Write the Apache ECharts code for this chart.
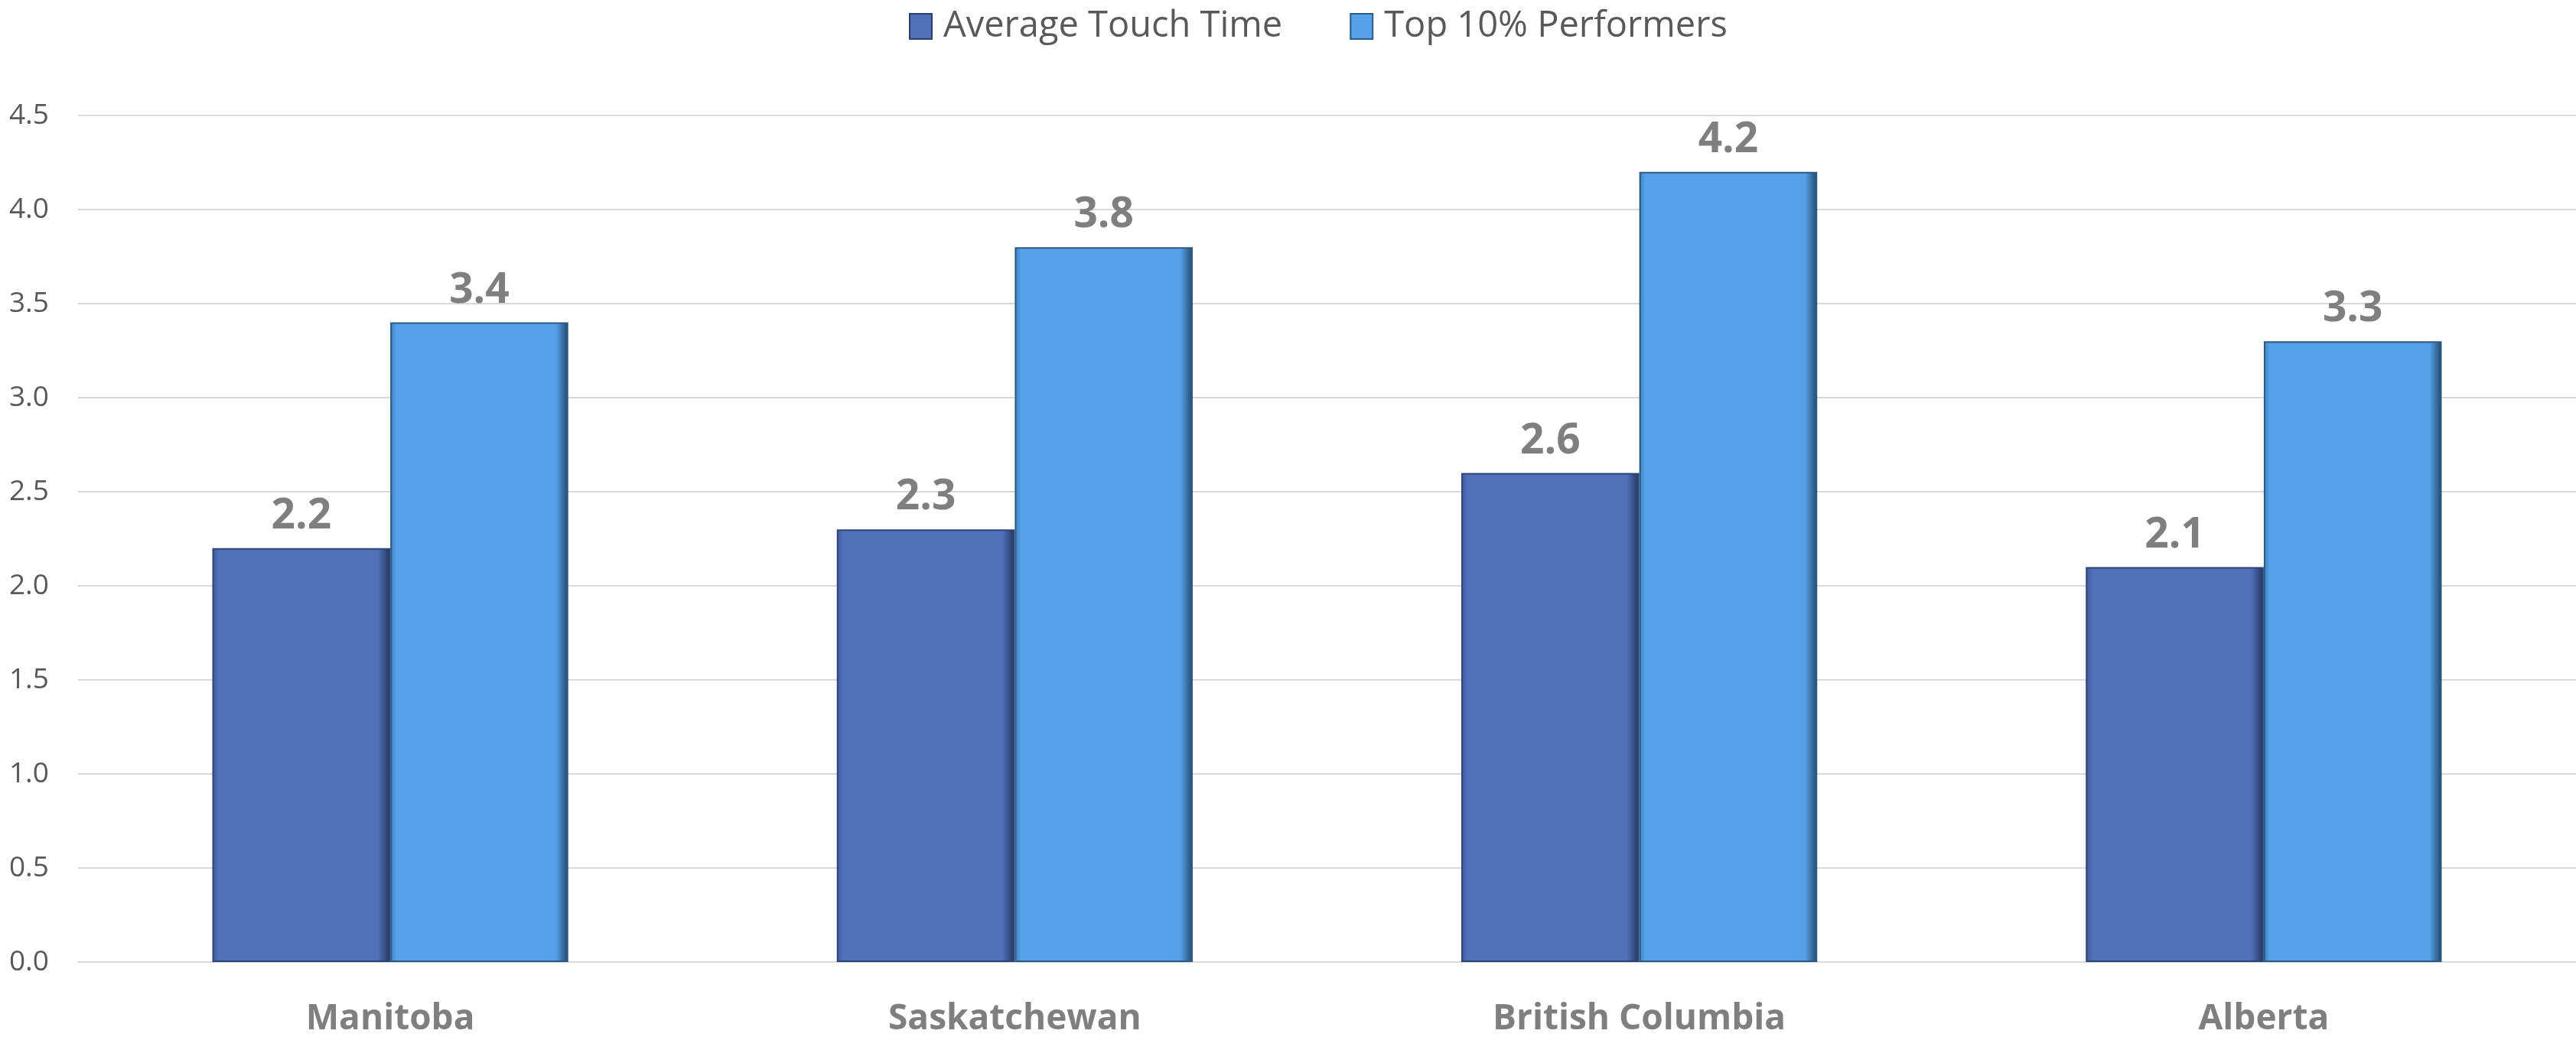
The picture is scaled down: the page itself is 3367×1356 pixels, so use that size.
<!DOCTYPE html>
<html>
<head>
<meta charset="utf-8">
<script src="https://cdn.jsdelivr.net/npm/echarts@6/dist/echarts.min.js"></script>
<style>
html,body{margin:0;padding:0;background:#fff;}
#main{width:3367px;height:1356px;}
</style>
</head>
<body>
<div id="main"></div>
<script>
const categories = ['Manitoba', 'Saskatchewan', 'British Columbia', 'Alberta'];
const avgTouchTime = [2.2, 2.3, 2.6, 2.1];
const top10Performers = [3.4, 3.8, 4.2, 3.3];
const seriesNames = ['Average Touch Time', 'Top 10% Performers'];

function bevel(edgeL, base, edgeR) {
  return new echarts.graphic.LinearGradient(0, 0, 1, 0, [
    {offset: 0, color: edgeL},
    {offset: 0.035, color: base},
    {offset: 0.93, color: base},
    {offset: 1, color: edgeR}
  ]);
}

const chart = echarts.init(document.getElementById('main'));
const labelStyle = {
  show: true, position: 'top', distance: 14,
  color: '#7f7f7f', fontFamily: 'Open Sans', fontWeight: 'bold', fontSize: 55,
  formatter: p => p.value.toFixed(1)
};
chart.setOption({
  animation: false,
  backgroundColor: '#ffffff',
  legend: {
    top: 6, left: 1183,
    itemWidth: 29, itemHeight: 33, itemGap: 88,
    textStyle: {color: '#595959', fontFamily: 'Open Sans', fontSize: 47, padding: [0, 0, 0, 10]},
    data: [
      {name: seriesNames[0], icon: 'rect', itemStyle: {color: '#5070B8', borderColor: '#2a3f70', borderWidth: 2}},
      {name: seriesNames[1], icon: 'rect', itemStyle: {color: '#56A2E8', borderColor: '#2a5a88', borderWidth: 2}}
    ]
  },
  grid: {left: 102, right: 0, top: 151, bottom: 93, containLabel: false},
  xAxis: {
    type: 'category', data: categories,
    axisLine: {show: true, lineStyle: {color: '#d9d9d9', width: 2}},
    axisTick: {show: false},
    axisLabel: {color: '#7f7f7f', fontFamily: 'Open Sans', fontWeight: 'bold', fontSize: 46, margin: 52}
  },
  yAxis: {
    type: 'value', min: 0, max: 4.5, interval: 0.5,
    axisLine: {show: false}, axisTick: {show: false},
    splitLine: {lineStyle: {color: '#d9d9d9', width: 2}},
    axisLabel: {color: '#595959', fontFamily: 'Open Sans', fontSize: 37, margin: 38,
      formatter: v => v.toFixed(1)}
  },
  series: [
    {
      name: seriesNames[0], type: 'bar', data: avgTouchTime,
      barGap: '0%', barCategoryGap: '43%',
      itemStyle: {color: bevel('#3d5a9a', '#5070B8', '#22355f'), borderColor: '#2e4577', borderWidth: 2},
      label: labelStyle
    },
    {
      name: seriesNames[1], type: 'bar', data: top10Performers,
      itemStyle: {color: bevel('#3f7fc0', '#56A2E8', '#22476d'), borderColor: '#2d5a85', borderWidth: 2},
      label: labelStyle
    }
  ]
});
</script>
</body>
</html>
